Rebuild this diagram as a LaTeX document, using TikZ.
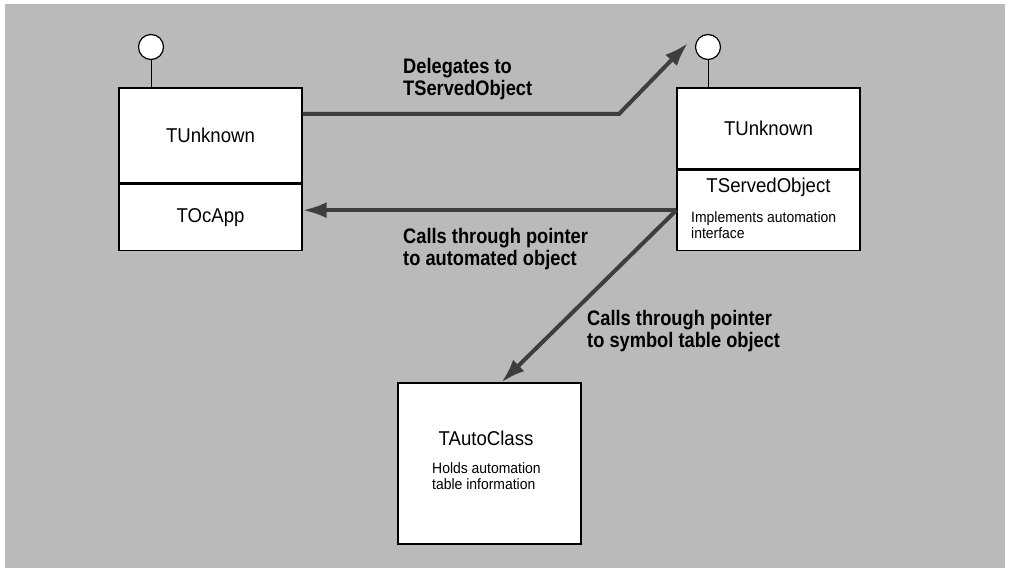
\documentclass[tikz,border=0pt]{standalone}
\usepackage{fontspec}
\setmainfont[FakeStretch=0.93]{Liberation Sans}
\newfontfamily\notefont[FakeStretch=0.87]{Liberation Sans}
\usetikzlibrary{positioning,arrows.meta}
\definecolor{bggray}{RGB}{186,186,186}
\definecolor{arrowgray}{RGB}{62,62,62}

\begin{document}
\begin{tikzpicture}[x=1pt,y=-1pt]
    \tikzstyle{part}=[draw,line width=1.2pt,fill=white,minimum width=183pt,inner sep=0pt,font=\fontsize{20}{22}\selectfont]
    \tikzstyle{title}=[inner sep=0pt,font=\fontsize{20}{22}\selectfont]
    \tikzstyle{lolli}=[draw,line width=1.2pt,fill=white,circle,minimum size=25pt,inner sep=0pt]
    \tikzstyle{stem}=[line width=1pt]
    \tikzstyle{flow}=[line width=4pt,arrowgray,-{Latex[length=24pt,width=16pt]}]
    \tikzstyle{note}=[font=\notefont\bfseries\fontsize{21}{22}\selectfont,align=left,anchor=north west,inner sep=0pt]
    \tikzstyle{desc}=[font=\fontsize{15}{16.5}\selectfont,align=left,anchor=north west,inner sep=0pt]

    \useasboundingbox (0,0) rectangle (1010,572);
    \fill[bggray] (5,4) rectangle (1005,568);

    \node[part,minimum height=95pt] (lunk) at (210.5,135.5) {TUnknown};
    \node[part,minimum height=66pt,below=0pt of lunk] (locapp) {TOcApp};
    \node[part,minimum height=81pt] (runk) at (768.5,128.5) {TUnknown};
    \node[part,minimum height=80pt,below=0pt of runk] (rsrv) {};
    \node[title] (rsrvname) at (768.5,187) {TServedObject};
    \node[desc] (rsrvdesc) at (691,211) {Implements automation\\interface};
    \node[part,minimum height=161pt] (auto) at (489.5,463.5) {};
    \node[title] (autoname) at (486,438) {TAutoClass};
    \node[desc] (autodesc) at (432,462) {Holds automation\\table information};

    \node[lolli] (llol) at (151,47) {};
    \node[lolli] (rlol) at (708,47) {};
    \draw[stem] (llol) -- (llol |- lunk.north);
    \draw[stem] (rlol) -- (rlol |- runk.north);

    \coordinate (dbend) at (619,114);
    \coordinate (dtip) at (688,43);
    \draw[flow] (lunk.east |- dbend) -- (dbend) -- (dtip);
    \draw[flow] (rsrv.west) -- (locapp.east |- rsrv.west);
    \draw[flow] (rsrv.west) -- ([xshift=12pt]auto.north);

    \node[note] (ldeleg) at (403,58) {Delegates to\\TServedObject};
    \node[note] (lauto) at (403,228) {Calls through pointer\\to automated object};
    \node[note] (lsym) at (587,310) {Calls through pointer\\to symbol table object};
\end{tikzpicture}
\end{document}
